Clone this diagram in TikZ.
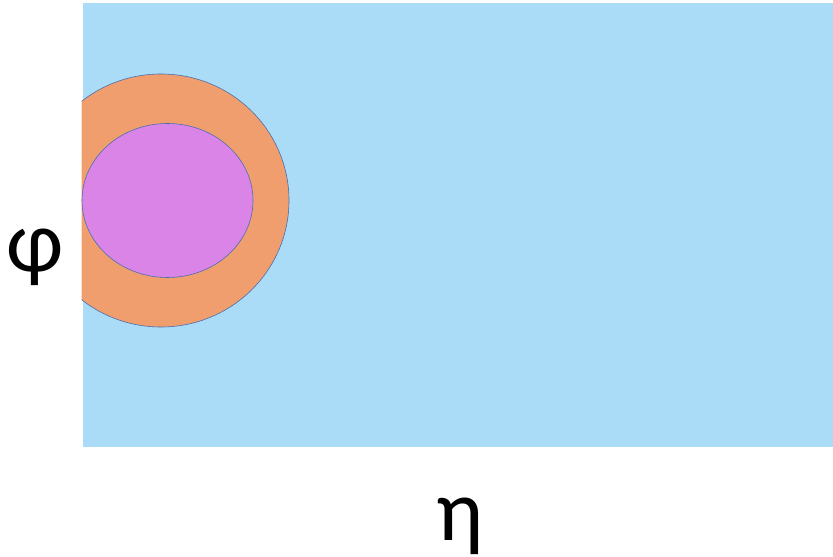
\documentclass[tikz,border=0pt]{standalone}
\usepackage{fontspec}
\setmainfont{Carlito}
\definecolor{bgblue}{HTML}{AADBF7}
\definecolor{ringorange}{HTML}{F09E6E}
\definecolor{corepink}{HTML}{DA84E8}
\definecolor{edgeblue}{HTML}{4A6FB0}
\begin{document}
\begin{tikzpicture}[x=1bp,y=-1bp,
  lbl/.style={font=\fontsize{88}{96}\selectfont, anchor=base, inner sep=0pt},
  shp/.style={draw=edgeblue, line width=0.6bp}]
\useasboundingbox (0,0) rectangle (833,557);
\fill[bgblue] (83,3.5) rectangle (833,447);
\begin{scope}
  \clip (81.5,0) rectangle (833,557);
  \path[shp, fill=ringorange] (161,200.5) ellipse [x radius=128, y radius=126.5];
  \path[shp, fill=corepink] (167.5,200.5) ellipse [x radius=85.5, y radius=77];
\end{scope}
\node[lbl] (phi) at (35,272) {φ};
\node[lbl] (eta) at (460,540) {η};
\end{tikzpicture}
\end{document}
